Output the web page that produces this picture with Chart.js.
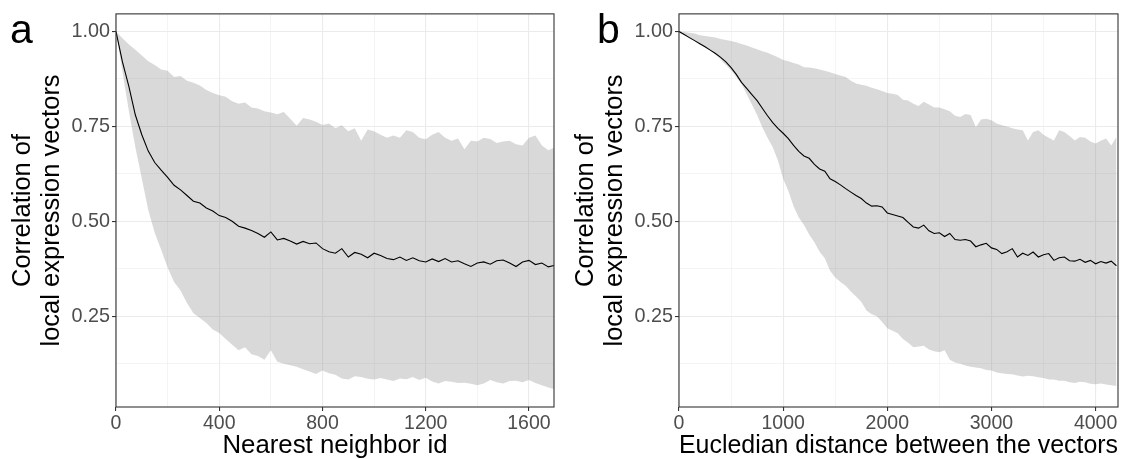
<!DOCTYPE html>
<html lang="en">
<head>
    <meta charset="UTF-8">
    <title>Correlation of local expression vectors</title>
    <script src="https://cdn.jsdelivr.net/npm/chart.js"></script>
    <style>
        body {
            margin: 0;
            background: #fff;
            width: 1127px;
            height: 459px;
            position: relative;
            overflow: hidden;
        }
        canvas {
            position: absolute;
            top: 0;
        }
        #panelA { left: 0; }
        #panelB { left: 563px; }
    </style>
</head>
<body>
    <canvas id="panelA" width="563" height="459"></canvas>
    <canvas id="panelB" width="564" height="459"></canvas>

    <script>
        // panel a: nearest neighbor id
        const neighborIds = [
            0, 25, 50, 75, 100, 125, 150, 175, 200, 225,
            250, 275, 300, 325, 350, 375, 400, 425, 450, 475,
            500, 525, 550, 575, 600, 625, 650, 675, 700, 725,
            750, 775, 800, 825, 850, 875, 900, 925, 950, 975,
            1000, 1025, 1050, 1075, 1100, 1125, 1150, 1175, 1200, 1225,
            1250, 1275, 1300, 1325, 1350, 1375, 1400, 1425, 1450, 1475,
            1500, 1525, 1550, 1575, 1600, 1625, 1650, 1675, 1700];
        const neighborMean = [
            1.00, 0.92, 0.855, 0.78, 0.728, 0.685, 0.655, 0.635, 0.616, 0.595,
            0.583, 0.568, 0.553, 0.548, 0.535, 0.527, 0.515, 0.51, 0.5, 0.487,
            0.482, 0.476, 0.468, 0.458, 0.472, 0.451, 0.455, 0.448, 0.44, 0.447,
            0.441, 0.443, 0.428, 0.42, 0.416, 0.428, 0.406, 0.418, 0.413, 0.404,
            0.416, 0.41, 0.402, 0.399, 0.406, 0.397, 0.404, 0.396, 0.393, 0.401,
            0.394, 0.402, 0.393, 0.396, 0.388, 0.381, 0.39, 0.393, 0.387, 0.396,
            0.398, 0.39, 0.381, 0.393, 0.397, 0.386, 0.39, 0.38, 0.384];
        const neighborUpper = [
            1.00, 0.982, 0.966, 0.952, 0.937, 0.922, 0.912, 0.9, 0.897, 0.88,
            0.883, 0.87, 0.865, 0.858, 0.846, 0.838, 0.832, 0.828, 0.816, 0.81,
            0.813, 0.8, 0.797, 0.79, 0.787, 0.782, 0.788, 0.77, 0.752, 0.772,
            0.768, 0.762, 0.754, 0.758, 0.745, 0.753, 0.737, 0.745, 0.712, 0.742,
            0.737, 0.728, 0.72, 0.726, 0.72, 0.74, 0.735, 0.72, 0.716, 0.728,
            0.735, 0.72, 0.712, 0.718, 0.69, 0.712, 0.71, 0.72, 0.717, 0.706,
            0.71, 0.712, 0.703, 0.7, 0.72, 0.726, 0.7, 0.687, 0.695];
        const neighborLower = [
            1.00, 0.895, 0.79, 0.695, 0.613, 0.53, 0.47, 0.425, 0.378, 0.34,
            0.318, 0.285, 0.258, 0.245, 0.232, 0.215, 0.206, 0.19, 0.175, 0.16,
            0.168, 0.15, 0.145, 0.135, 0.16, 0.13, 0.125, 0.121, 0.117, 0.11,
            0.104, 0.098, 0.107, 0.1, 0.096, 0.086, 0.083, 0.092, 0.09, 0.085,
            0.083, 0.087, 0.083, 0.079, 0.086, 0.084, 0.09, 0.082, 0.088, 0.078,
            0.073, 0.079, 0.077, 0.074, 0.075, 0.072, 0.068, 0.073, 0.082, 0.076,
            0.073, 0.079, 0.08, 0.076, 0.082, 0.074, 0.068, 0.062, 0.058];
        const neighborTicks = [0, 200, 400, 600, 800, 1000, 1200, 1400, 1600];

        // panel b: eucledian distance
        const distances = [
            0, 50, 100, 150, 200, 250, 300, 350, 400, 450,
            500, 550, 600, 650, 700, 750, 800, 850, 900, 950,
            1000, 1050, 1100, 1150, 1200, 1250, 1300, 1350, 1400, 1450,
            1500, 1550, 1600, 1650, 1700, 1750, 1800, 1850, 1900, 1950,
            2000, 2050, 2100, 2150, 2200, 2250, 2300, 2350, 2400, 2450,
            2500, 2550, 2600, 2650, 2700, 2750, 2800, 2850, 2900, 2950,
            3000, 3050, 3100, 3150, 3200, 3250, 3300, 3350, 3400, 3450,
            3500, 3550, 3600, 3650, 3700, 3750, 3800, 3850, 3900, 3950,
            4000, 4050, 4100, 4150, 4200];
        const distanceMean = [
            1.0, 0.992, 0.984, 0.976, 0.968, 0.96, 0.951, 0.942, 0.932, 0.92,
            0.905, 0.887, 0.866, 0.85, 0.834, 0.818, 0.798, 0.778, 0.76, 0.745,
            0.732, 0.718, 0.7, 0.684, 0.672, 0.666, 0.65, 0.638, 0.632, 0.612,
            0.605, 0.596, 0.586, 0.577, 0.568, 0.56, 0.548, 0.54, 0.541, 0.538,
            0.522, 0.518, 0.514, 0.51, 0.497, 0.485, 0.482, 0.49, 0.475, 0.468,
            0.47, 0.46, 0.468, 0.452, 0.45, 0.452, 0.448, 0.433, 0.438, 0.442,
            0.43, 0.426, 0.415, 0.42, 0.428, 0.406, 0.416, 0.41, 0.419, 0.406,
            0.412, 0.415, 0.397, 0.404, 0.406, 0.396, 0.395, 0.4, 0.392, 0.397,
            0.388, 0.394, 0.39, 0.395, 0.383];
        const distanceUpper = [
            1.0, 0.999, 0.997, 0.995, 0.99, 0.988, 0.986, 0.984, 0.98, 0.978,
            0.975, 0.972, 0.967, 0.963, 0.958, 0.953, 0.948, 0.944, 0.938, 0.932,
            0.925, 0.922, 0.917, 0.913, 0.906, 0.905, 0.903, 0.9, 0.897, 0.893,
            0.888, 0.884, 0.88, 0.87, 0.863, 0.86, 0.857, 0.852, 0.848, 0.843,
            0.838, 0.836, 0.833, 0.82, 0.818, 0.81, 0.804, 0.815, 0.808, 0.8,
            0.8, 0.795, 0.79, 0.778, 0.775, 0.783, 0.78, 0.748, 0.768, 0.77,
            0.766, 0.758, 0.753, 0.75, 0.745, 0.742, 0.74, 0.713, 0.735, 0.74,
            0.728, 0.72, 0.713, 0.74, 0.735, 0.725, 0.713, 0.722, 0.72, 0.71,
            0.705, 0.712, 0.718, 0.7, 0.722];
        const distanceLower = [
            1.0, 0.992, 0.983, 0.975, 0.966, 0.958, 0.95, 0.94, 0.926, 0.912,
            0.898, 0.88, 0.862, 0.835, 0.808, 0.78, 0.748, 0.72, 0.695, 0.66,
            0.612, 0.58, 0.54, 0.51, 0.49, 0.465, 0.445, 0.42, 0.403, 0.37,
            0.352, 0.34, 0.33, 0.315, 0.302, 0.288, 0.265, 0.255, 0.25, 0.235,
            0.218, 0.212, 0.205, 0.19, 0.18, 0.168, 0.17, 0.172, 0.162, 0.158,
            0.155, 0.16, 0.135, 0.128, 0.125, 0.12, 0.117, 0.115, 0.113, 0.108,
            0.107, 0.102, 0.1, 0.098, 0.097, 0.094, 0.091, 0.093, 0.092, 0.089,
            0.087, 0.083, 0.083, 0.08, 0.08, 0.076, 0.074, 0.077, 0.076, 0.072,
            0.071, 0.073, 0.07, 0.068, 0.066];
        const distanceTicks = [0, 500, 1000, 1500, 2000, 2500, 3000, 3500, 4000];

        const yTicks = [0.125, 0.25, 0.375, 0.5, 0.625, 0.75, 0.875, 1.0];
        const yTitle = ['Correlation of', 'local expression vectors'];

        const FONT = '"Liberation Sans", Arial, Helvetica, sans-serif';

        function toPoints(xs, ys) {
            return xs.map((x, i) => ({ x: x, y: ys[i] }));
        }

        // panel letter + full border box like ggplot theme_bw
        const panelDecor = {
            id: 'panelDecor',
            afterDraw(chart, args, opts) {
                const { ctx, chartArea } = chart;
                ctx.save();
                ctx.strokeStyle = '#333333';
                ctx.lineWidth = 1.1;
                ctx.strokeRect(chartArea.left, chartArea.top,
                    chartArea.right - chartArea.left, chartArea.bottom - chartArea.top);
                ctx.fillStyle = '#000';
                ctx.font = '41px ' + FONT;
                ctx.textBaseline = 'alphabetic';
                ctx.fillText(opts.letter, opts.letterX, 43);
                ctx.restore();
            }
        };

        function makePanel(id, xs, mean, upper, lower, xMax, xTicks, labelStep, xTitle, letter, letterX) {
            const isMajorX = v => v % labelStep === 0;
            const isMajorY = v => Math.abs(v * 4 - Math.round(v * 4)) < 1e-6;
            return new Chart(document.getElementById(id), {
                type: 'line',
                data: {
                    datasets: [{
                        data: toPoints(xs, mean),
                        borderColor: '#000',
                        borderWidth: 1.1,
                        pointRadius: 0,
                        tension: 0,
                        fill: false
                    }, {
                        data: toPoints(xs, upper),
                        borderWidth: 0,
                        borderColor: 'rgba(0,0,0,0)',
                        backgroundColor: 'rgba(128, 128, 128, 0.3)',
                        pointRadius: 0,
                        tension: 0,
                        fill: '+1'
                    }, {
                        data: toPoints(xs, lower),
                        borderWidth: 0,
                        borderColor: 'rgba(0,0,0,0)',
                        pointRadius: 0,
                        tension: 0,
                        fill: false
                    }]
                },
                options: {
                    responsive: false,
                    animation: false,
                    devicePixelRatio: 1,
                    layout: { padding: { left: 0, top: 13, right: 9, bottom: 0 } },
                    plugins: {
                        legend: { display: false },
                        tooltip: { enabled: false },
                        panelDecor: { letter: letter, letterX: letterX }
                    },
                    scales: {
                        x: {
                            type: 'linear',
                            min: 0,
                            max: xMax,
                            afterBuildTicks: s => { s.ticks = xTicks.map(v => ({ value: v })); },
                            afterFit: s => { s.height = 52; },
                            border: { display: false },
                            grid: {
                                color: '#ebebeb',
                                lineWidth: c => isMajorX(c.tick.value) ? 1.1 : 0.55,
                                tickColor: c => isMajorX(c.tick.value) ? '#333333' : 'rgba(0,0,0,0)',
                                tickWidth: 1.1,
                                tickLength: 4
                            },
                            ticks: {
                                autoSkip: false,
                                maxRotation: 0,
                                padding: 1,
                                color: '#4d4d4d',
                                font: { family: FONT, size: 19.5 },
                                callback: v => isMajorX(v) ? String(v) : ''
                            },
                            title: {
                                display: true,
                                text: xTitle,
                                color: '#000',
                                padding: { top: 0, bottom: 0 },
                                font: { family: FONT, size: 25.8, lineHeight: 1.0 }
                            }
                        },
                        y: {
                            min: 0.0108,
                            max: 1.0465,
                            afterBuildTicks: s => { s.ticks = yTicks.map(v => ({ value: v })); },
                            afterFit: s => { s.width = 116; },
                            border: { display: false },
                            grid: {
                                color: '#ebebeb',
                                lineWidth: c => isMajorY(c.tick.value) ? 1.1 : 0.55,
                                tickColor: c => isMajorY(c.tick.value) ? '#333333' : 'rgba(0,0,0,0)',
                                tickWidth: 1.1,
                                tickLength: 4
                            },
                            ticks: {
                                padding: 2,
                                color: '#4d4d4d',
                                font: { family: FONT, size: 19.8 },
                                callback: v => isMajorY(v) ? v.toFixed(2) : ''
                            },
                            title: {
                                display: true,
                                text: yTitle,
                                color: '#000',
                                padding: { top: 8.5, bottom: 0 },
                                font: { family: FONT, size: 25.5, lineHeight: 1.125 }
                            }
                        }
                    }
                },
                plugins: [panelDecor]
            });
        }

        makePanel('panelA', neighborIds, neighborMean, neighborUpper, neighborLower,
            1697, neighborTicks, 400, 'Nearest neighbor id', 'a', 10);
        makePanel('panelB', distances, distanceMean, distanceUpper, distanceLower,
            4215, distanceTicks, 1000, 'Eucledian distance between the vectors', 'b', 34);
    </script>
</body>
</html>
